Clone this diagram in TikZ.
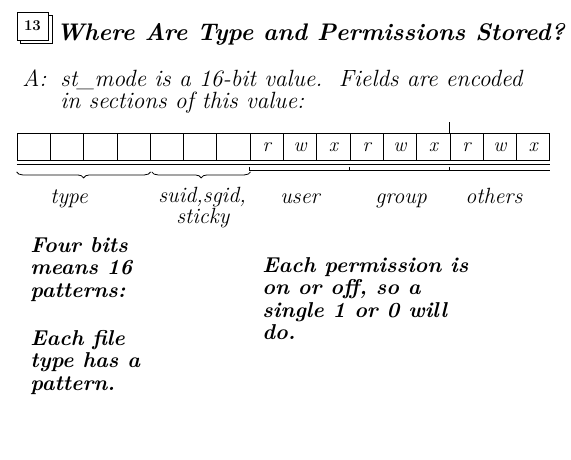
\documentclass[tikz,border=0pt]{standalone}
\usetikzlibrary{decorations.pathreplacing}
\tikzset{
  headline/.style={font=\fontsize{24}{28}\selectfont\bfseries\itshape, anchor=base west, inner sep=0pt},
  bodytext/.style={font=\fontsize{23.5}{22}\selectfont\itshape, anchor=base west, inner sep=0pt},
  bitcell/.style={draw, minimum width=33.3pt, minimum height=27pt, inner sep=0pt},
  fieldlabel/.style={font=\fontsize{22}{19}\selectfont\itshape, anchor=base west, inner sep=0pt, align=left},
  notetext/.style={font=\fontsize{21.5}{22.5}\selectfont\bfseries\itshape, anchor=north west, inner sep=0pt, align=left},
  fieldbrace/.style={decorate, decoration={brace, mirror, amplitude=6pt}},
}
\begin{document}
\begin{tikzpicture}[x=1pt, y=-1pt, line width=0.8pt]
\useasboundingbox (0,0) rectangle (571,460);
% slide number
\draw[fill=white] (20,15) rectangle (52,43);
\node[draw, fill=white, minimum width=31pt, minimum height=28pt, inner sep=0pt,
  font=\fontsize{15}{15}\selectfont\bfseries] (slideno) at (32.5,26) {13};
\node[headline] (title) at (56,41) {Where Are Type and Permissions Stored?};
\node[bodytext] (answer) at (22,87) {A:};
\node[bodytext] (line1) at (60,87) {st\_mode is a 16-bit value.\ \ Fields are encoded};
\node[bodytext] (line2) at (60,109) {in sections of this value:};
% the 16 bits
\foreach \i in {0,...,15}
  \node[bitcell] (cell\i) at ({33.65+33.3*\i},147) {};
\foreach \i/\p in {7/r,8/w,9/x,10/r,11/w,12/x,13/r,14/w,15/x}
  \node[font=\fontsize{20}{20}\selectfont\itshape] (perm\i) at (cell\i) {\p};
\draw (cell13.north west) -- ++(0,-11);
\draw ([yshift=-3pt]cell0.south west) -- ([yshift=-3pt]cell15.south east);
% fields
\draw[fieldbrace] ([yshift=-11pt]cell0.south west) -- ([yshift=-11pt]cell3.south east);
\draw[fieldbrace] ([xshift=2pt,yshift=-11pt]cell4.south west) -- ([yshift=-11pt]cell6.south east);
\draw ([yshift=-6pt]cell7.south west) -- ++(0,3) -- ([yshift=-9pt]cell15.south east)
  ([yshift=-6pt]cell10.south west) -- ++(0,3)
  ([yshift=-6pt]cell13.south west) -- ++(0,3);
\node[fieldlabel] (type) at (50,204) {type};
\node[fieldlabel] (special) at (158,223) {suid,sgid,\\\hspace*{18pt}sticky};
\node[fieldlabel] (user) at (280,204) {user};
\node[fieldlabel] (group) at (375,204) {group};
\node[fieldlabel] (others) at (465,204) {others};
% notes
\node[notetext] (typenote) at (30,237) {Four bits\\means 16\\patterns:};
\node[notetext] (filenote) at (30,330) {Each file\\type has a\\pattern.};
\node[notetext] (permnote) at (262,257) {Each permission is\\on or off, so a\\single 1 or 0 will\\do.};
\end{tikzpicture}
\end{document}
